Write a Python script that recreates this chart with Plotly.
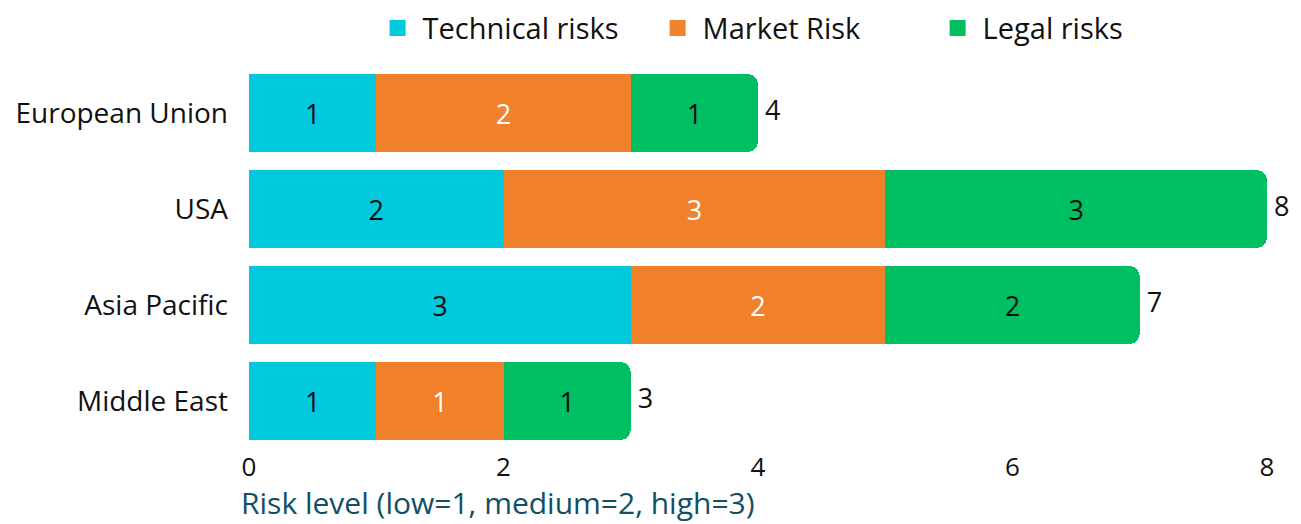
import plotly.graph_objects as go

regions = ["European Union", "USA", "Asia Pacific", "Middle East"]
technical = [1, 2, 3, 1]
market = [2, 3, 2, 1]
legal = [1, 3, 2, 1]
totals = [t + m + l for t, m, l in zip(technical, market, legal)]
x_ticks = [0, 2, 4, 6, 8]

FONT = "Open Sans"
fig = go.Figure()
series = [
    ("Technical risks", technical, "#00C9DB", "#111111"),
    ("Market Risk", market, "#F2812B", "#FFFFFF"),
    ("Legal risks", legal, "#00BF63", "#111111"),
]
for name, vals, col, tcol in series:
    fig.add_trace(go.Bar(
        y=regions, x=vals, name=name, orientation="h", legendgroup=name,
        marker=dict(color=col, line=dict(width=0)), showlegend=False,
        text=[str(v) for v in vals], textposition="inside",
        insidetextanchor="middle", textangle=0,
        textfont=dict(family=FONT, size=27, color=tcol),
        hoverinfo="skip",
    ))
for name, vals, col, tcol in series:
    fig.add_trace(go.Scatter(
        x=[None], y=[None], mode="markers", name=name, legendgroup=name,
        marker=dict(symbol="square", size=28, color=col), hoverinfo="skip",
    ))

fig.add_trace(go.Scatter(
    y=regions, x=totals, mode="text", texttemplate=" %{x}",
    textposition="middle right", textfont=dict(family=FONT, size=27, color="#111111"),
    showlegend=False, hoverinfo="skip", cliponaxis=False,
))

fig.update_layout(
    width=1293, height=516,
    barmode="stack", bargap=0.19, barcornerradius=10,
    plot_bgcolor="white", paper_bgcolor="white",
    margin=dict(l=241, r=34, t=57, b=75, autoexpand=False),
    font=dict(family=FONT, size=27, color="#111111"),
    legend=dict(orientation="h", x=0.534, xanchor="center", y=1.096, yanchor="middle",
                font=dict(family=FONT, size=29, color="#111111"), traceorder="normal",
                itemwidth=40, itemsizing="trace", entrywidth=225),
    xaxis=dict(range=[0, 8], tickvals=x_ticks, showgrid=False, zeroline=False,
               showline=False, ticks="", tickfont=dict(size=26), ticklabelstandoff=0),
    yaxis=dict(autorange="reversed", showgrid=False, ticks="", showline=False,
               tickfont=dict(size=28), ticklabelstandoff=20),
    annotations=[dict(
        text="Risk level (low=1, medium=2, high=3)", xref="paper", yref="paper",
        x=-0.01, xanchor="left", y=-0.139, yanchor="middle", showarrow=False,
        font=dict(family="Open Sans", size=30, color="#124F63"),
    )],
)

fig.write_html("out.html")
